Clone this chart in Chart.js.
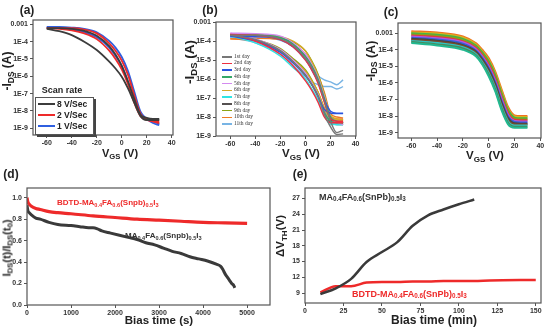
<!DOCTYPE html>
<html>
<head>
<meta charset="utf-8">
<script src="https://cdn.jsdelivr.net/npm/chart.js@4.4.0/dist/chart.umd.min.js"></script>
<style>
  body { margin: 0; background: #fff; }
  #wrap { position: relative; width: 546px; height: 329px; overflow: hidden;
          font-family: Arial, "Liberation Sans", sans-serif; font-weight: bold; color: #222; }
  #wrap canvas { position: absolute; left: 0; top: 0; }
  .t { position: absolute; white-space: nowrap; line-height: 1; }
  .t sub { font-size: 0.7em; vertical-align: -0.3em; line-height: 0; }
  .c { transform: translate(-50%, -50%); }
  .l { transform: translateY(-50%); }
  .rot { transform: translate(-50%, -50%) rotate(-90deg); }
  .lg { position: absolute; height: 2px; }
  .small { font-family: "Liberation Serif", "DejaVu Serif", serif; font-weight: normal; font-size: 5.5px; color: #333; }
</style>
</head>
<body>
<div id="wrap">
  <canvas id="ca" width="546" height="329"></canvas>
  <canvas id="cb" width="546" height="329"></canvas>
  <canvas id="cc" width="546" height="329"></canvas>
  <canvas id="cd" width="546" height="329"></canvas>
  <canvas id="ce" width="546" height="329"></canvas>

  <!-- panel letters -->
  <div class="t c" style="left:27px;top:10px;font-size:12px">(a)</div>
  <div class="t c" style="left:210px;top:10px;font-size:12px">(b)</div>
  <div class="t c" style="left:391px;top:12px;font-size:12px">(c)</div>
  <div class="t c" style="left:11px;top:174px;font-size:12px">(d)</div>
  <div class="t c" style="left:300px;top:174px;font-size:12px">(e)</div>

  <!-- axis titles -->
  <div class="t c" style="left:120px;top:153px;font-size:11px">V<sub>GS</sub> (V)</div>
  <div class="t c" style="left:301px;top:154px;font-size:11.5px">V<sub>GS</sub> (V)</div>
  <div class="t c" style="left:485px;top:156px;font-size:11.5px">V<sub>GS</sub> (V)</div>
  <div class="t rot" style="left:7px;top:71px;font-size:12px">-I<sub>DS</sub> (A)</div>
  <div class="t rot" style="left:190px;top:62px;font-size:13.5px">-I<sub>DS</sub> (A)</div>
  <div class="t rot" style="left:371px;top:61px;font-size:12.5px">-I<sub>DS</sub> (A)</div>
  <div class="t c" style="left:159px;top:321px;font-size:11.5px">Bias time (s)</div>
  <div class="t c" style="left:434px;top:320px;font-size:12px">Bias time (min)</div>
  <div class="t rot" style="left:7px;top:248px;font-size:11px">I<sub>DS</sub>(t)/I<sub>DS</sub>(t<sub>0</sub>)</div>
  <div class="t rot" style="left:281px;top:236px;font-size:11.5px">&Delta;V<sub>TH</sub>(V)</div>

  <!-- annotations -->
  <div class="t l" style="left:57px;top:203px;font-size:8px;color:#ee2a2a">BDTD-MA<sub>0.4</sub>FA<sub>0.6</sub>(Snpb)<sub>0.5</sub>I<sub>3</sub></div>
  <div class="t l" style="left:125px;top:236px;font-size:8px;color:#333">MA<sub>0.4</sub>FA<sub>0.6</sub>(Snpb)<sub>0.5</sub>I<sub>3</sub></div>
  <div class="t l" style="left:319px;top:197px;font-size:9px;color:#333">MA<sub>0.4</sub>FA<sub>0.6</sub>(SnPb)<sub>0.5</sub>I<sub>3</sub></div>
  <div class="t l" style="left:352px;top:294px;font-size:9px;color:#ee2a2a">BDTD-MA<sub>0.4</sub>FA<sub>0.6</sub>(SnPb)<sub>0.5</sub>I<sub>3</sub></div>

  <!-- legend (a) -->
  <div class="t c" style="left:62px;top:90px;font-size:9px">Scan rate</div>
  <div style="position:absolute;left:35px;top:97px;width:57px;height:36px;border:1px solid #555;box-shadow:2px 2px 0 #444"></div>
  <div id="legA"></div>
  <!-- legend (b) -->
  <div id="legB"></div>
</div>

<script>
// ---- (a) scan rate hysteresis ----
const ivVgs = [-60, -50, -40, -30, -20, -10, -5, 0, 5, 10, 15, 20, 25, 30];
const a8Fwd = [6e-4, 6e-4, 5.5e-4, 4.2e-4, 2.2e-4, 5.5e-5, 1.8e-5, 4e-6, 5e-7, 5e-8, 6e-9, 4e-9, 3.5e-9, 3.5e-9];
const a8Rev = [5.5e-4, 4e-4, 2.4e-4, 1e-4, 3.3e-5, 7e-6, 2.8e-6, 9.5e-7, 2e-7, 3e-8, 5e-9, 3e-9, 3e-9, 3e-9];
const a2Fwd = [6e-4, 6e-4, 6e-4, 5e-4, 3e-4, 8e-5, 3e-5, 8e-6, 1.2e-6, 8e-8, 7e-9, 3.5e-9, 2.5e-9, 2e-9];
const a2Rev = [6e-4, 5.5e-4, 4.5e-4, 3e-4, 1.4e-4, 3e-5, 1e-5, 2.5e-6, 3.5e-7, 3e-8, 5e-9, 3e-9, 2.5e-9, 2.5e-9];
const a1Fwd = [7e-4, 7e-4, 6.5e-4, 5.5e-4, 3.5e-4, 1.1e-4, 4.5e-5, 1.3e-5, 2e-6, 1.3e-7, 9e-9, 3.5e-9, 2e-9, 1.5e-9];
const a1Rev = [6.5e-4, 6e-4, 5e-4, 3.5e-4, 1.8e-4, 4.5e-5, 1.5e-5, 4e-6, 5e-7, 4e-8, 6e-9, 3.5e-9, 2.5e-9, 1.8e-9];
const scanLabels = ["8 V/Sec", "2 V/Sec", "1 V/Sec"];
const scanColors = ["#3c3c3c", "#ee2a2a", "#2f5fe0"];

// ---- (b) daily stability ----
const dayVgs = [-60, -40, -20, -10, 0, 5, 10, 15, 20, 25, 30];
const day1Up = [2e-4, 2e-4, 1.3e-4, 6e-5, 1.2e-5, 4e-6, 8e-7, 8e-8, 6e-9, 1.5e-9, 2e-9];
const day1Dn = [2e-4, 1.2e-4, 3e-5, 8e-6, 1.5e-6, 5e-7, 1.2e-7, 1.5e-8, 3e-9, 1.2e-9, 1.3e-9];
const day2Up = [2.2e-4, 2e-4, 1.2e-4, 5e-5, 1e-5, 3e-6, 6e-7, 6e-8, 8e-9, 6e-9, 6e-9];
const day2Dn = [2.2e-4, 1e-4, 2e-5, 5e-6, 8e-7, 2.5e-7, 6e-8, 1e-8, 5e-9, 5e-9, 5e-9];
const day3Up = [1.8e-4, 1.7e-4, 1.2e-4, 5e-5, 1.1e-5, 3e-6, 7e-7, 8e-8, 2e-8, 1.6e-8, 1.6e-8];
const day3Dn = [1.8e-4, 1e-4, 2.5e-5, 7e-6, 1.5e-6, 5e-7, 1.2e-7, 2.5e-8, 1.6e-8, 1.5e-8, 1.5e-8];
const day4Up = [2e-4, 2e-4, 1.5e-4, 7e-5, 1.5e-5, 5e-6, 1e-6, 1e-7, 1e-8, 6e-9, 5e-9];
const day4Dn = [2e-4, 1.1e-4, 3e-5, 8e-6, 1.6e-6, 5e-7, 1.3e-7, 1.8e-8, 6e-9, 5e-9, 5e-9];
const day5Up = [2.6e-4, 2.4e-4, 1.8e-4, 8e-5, 2e-5, 6e-6, 1.2e-6, 1.2e-7, 1e-8, 6e-9, 5e-9];
const day5Dn = [2.6e-4, 1.3e-4, 3.5e-5, 1e-5, 2e-6, 6e-7, 1.5e-7, 2e-8, 6e-9, 5e-9, 4e-9];
const day6Up = [2.2e-4, 2.2e-4, 1.7e-4, 1e-4, 3e-5, 8e-6, 1.5e-6, 1.5e-7, 1.2e-8, 8e-9, 7e-9];
const day6Dn = [2.2e-4, 1.2e-4, 3.5e-5, 1e-5, 2.5e-6, 8e-7, 2e-7, 3e-8, 8e-9, 7e-9, 7e-9];
const day7Up = [1.8e-4, 1.8e-4, 1.3e-4, 6e-5, 1.3e-5, 4e-6, 8e-7, 7e-8, 6e-9, 4e-9, 4e-9];
const day7Dn = [1.8e-4, 8e-5, 1.6e-5, 4e-6, 1e-6, 3e-7, 8e-8, 1.2e-8, 4e-9, 4e-9, 4e-9];
const day8Up = [2e-4, 2e-4, 1.5e-4, 7e-5, 1.6e-5, 5e-6, 1e-6, 1e-7, 8e-9, 5e-9, 5e-9];
const day8Dn = [2e-4, 1.1e-4, 3e-5, 8e-6, 1.8e-6, 6e-7, 1.5e-7, 2e-8, 5e-9, 4e-9, 4e-9];
const day9Up = [2e-4, 2e-4, 1.6e-4, 9e-5, 3e-5, 9e-6, 1.8e-6, 1.6e-7, 1e-8, 6e-9, 6e-9];
const day9Dn = [2e-4, 1.2e-4, 4e-5, 1.2e-5, 3e-6, 9e-7, 2e-7, 2.5e-8, 6e-9, 5e-9, 5e-9];
const day10Up = [1.3e-4, 1.4e-4, 1.2e-4, 7e-5, 2e-5, 7e-6, 1.6e-6, 2e-7, 1.5e-8, 1e-8, 9e-9];
const day10Dn = [1.3e-4, 1e-4, 3.5e-5, 1.1e-5, 2.5e-6, 8e-7, 2e-7, 3e-8, 9e-9, 8e-9, 8e-9];
const day11Up = [1.5e-4, 1.5e-4, 1.1e-4, 5e-5, 1e-5, 4e-6, 1.5e-6, 9e-7, 7e-7, 5e-7, 9e-7];
const day11Dn = [1.5e-4, 8e-5, 2e-5, 5e-6, 1.3e-6, 7e-7, 5e-7, 4e-7, 4e-7, 3e-7, 4e-7];
const dayLabels = ["1st day", "2nd day", "3rd day", "4th day", "5th day", "6th day",
                   "7th day", "8th day", "9th day", "10th day", "11th day"];
const dayColors = ["#777777", "#ee3040", "#2a55e0", "#35a868", "#d48af0", "#d6a828",
                   "#30e4e4", "#555050", "#8ca414", "#f07a22", "#78b4e4"];

// ---- (c) device-to-device ----
const devVgs = [-60, -40, -20, -10, -5, 0, 5, 10, 15, 20, 25, 30];
const dev1 = [1.3e-3, 1.1e-3, 6.3e-4, 2.5e-4, 1e-4, 3.2e-5, 5e-6, 4e-7, 3.5e-8, 1.1e-8, 1e-8, 1e-8];
const dev2 = [1.1e-3, 9.5e-4, 5.4e-4, 2.1e-4, 8.3e-5, 2.5e-5, 3.9e-6, 3.1e-7, 2.8e-8, 9.5e-9, 8.7e-9, 8.7e-9];
const dev3 = [9.8e-4, 8e-4, 4.5e-4, 1.8e-4, 6.9e-5, 2e-5, 3e-6, 2.3e-7, 2.3e-8, 8.1e-9, 7.4e-9, 7.4e-9];
const dev4 = [8.3e-4, 6.8e-4, 3.8e-4, 1.5e-4, 5.6e-5, 1.6e-5, 2.3e-6, 1.8e-7, 1.8e-8, 7e-9, 6.5e-9, 6.5e-9];
const dev5 = [7.2e-4, 5.8e-4, 3.2e-4, 1.3e-4, 4.8e-5, 1.3e-5, 1.9e-6, 1.4e-7, 1.5e-8, 6e-9, 5.6e-9, 5.6e-9];
const dev6 = [6.3e-4, 4.9e-4, 2.8e-4, 1.1e-4, 4e-5, 1e-5, 1.4e-6, 1.1e-7, 1.2e-8, 5.1e-9, 4.8e-9, 4.8e-9];
const dev7 = [5.2e-4, 4.1e-4, 2.3e-4, 9.1e-5, 3.2e-5, 7.9e-6, 1.1e-6, 8.1e-8, 9.3e-9, 4.4e-9, 4.1e-9, 4.1e-9];
const dev8 = [4.6e-4, 3.5e-4, 1.9e-4, 7.8e-5, 2.6e-5, 6.3e-6, 8.5e-7, 6.3e-8, 7.6e-9, 3.7e-9, 3.5e-9, 3.5e-9];
const dev9 = [3.9e-4, 3e-4, 1.7e-4, 6.6e-5, 2.2e-5, 5e-6, 6.6e-7, 4.9e-8, 6e-9, 3.2e-9, 3.1e-9, 3.1e-9];
const dev10 = [3.4e-4, 2.5e-4, 1.4e-4, 5.5e-5, 1.8e-5, 4e-6, 5.2e-7, 3.7e-8, 4.9e-9, 2.7e-9, 2.7e-9, 2.7e-9];
const dev11 = [2.9e-4, 2.1e-4, 1.2e-4, 4.7e-5, 1.5e-5, 3.2e-6, 4.1e-7, 2.9e-8, 3.9e-9, 2.3e-9, 2.3e-9, 2.3e-9];
const dev12 = [2.5e-4, 1.8e-4, 1e-4, 4e-5, 1.3e-5, 2.5e-6, 3.2e-7, 2.2e-8, 3.2e-9, 2e-9, 2e-9, 2e-9];
const devColors = ["#f07020", "#d9b020", "#3fb24a", "#84a41c", "#e03a3a", "#b455e0",
                   "#3460d8", "#444444", "#7a4a2a", "#2fc4c4", "#4a8a5a", "#22b890"];

// ---- (d) bias stress, normalised current ----
const dRedTime = [0, 20, 50, 100, 200, 300, 500, 700, 1000, 1500, 2000, 2500, 3000, 3500, 4000, 4500, 5000];
const dRedVal = [1.0, 0.96, 0.94, 0.92, 0.9, 0.89, 0.87, 0.86, 0.85, 0.83, 0.815, 0.8, 0.79, 0.78, 0.77, 0.765, 0.76];
const dBlkTime = [0, 20, 50, 100, 200, 300, 500, 700, 1000, 1200, 1400, 1500, 1600, 1700, 1900, 2100, 2300, 2500,
                  2700, 2900, 3100, 3300, 3500, 3700, 3900, 4100, 4300, 4400, 4450, 4500, 4550, 4600, 4650, 4700, 4720];
const dBlkVal = [0.93, 0.88, 0.86, 0.84, 0.81, 0.8, 0.77, 0.75, 0.74, 0.73, 0.72, 0.72, 0.71, 0.69, 0.67, 0.65, 0.63, 0.61,
                 0.58, 0.56, 0.53, 0.5, 0.48, 0.45, 0.43, 0.41, 0.38, 0.36, 0.33, 0.29, 0.26, 0.23, 0.2, 0.18, 0.16];

// ---- (e) threshold voltage shift ----
const eBlkTime = [10, 20, 30, 40, 50, 60, 70, 80, 90, 100, 110];
const eBlkVal = [8.8, 9.9, 11.7, 14.9, 16.8, 18.7, 21.8, 23.8, 24.9, 25.9, 26.8];
const eRedTime = [10, 20, 30, 40, 50, 60, 70, 80, 90, 100, 110, 120, 150];
const eRedVal = [9.1, 10.3, 10.3, 11.0, 11.1, 11.1, 11.2, 11.2, 11.3, 11.3, 11.3, 11.4, 11.5];

const logTicks = [1e-9, 1e-8, 1e-7, 1e-6, 1e-5, 1e-4, 1e-3];
const logTickLabels = ["1E-9", "1E-8", "1E-7", "1E-6", "1E-5", "1E-4", "0.001"];
const vgsTicks = [-60, -40, -20, 0, 20, 40];

Chart.defaults.font.family = 'Arial, "Liberation Sans", sans-serif';
Chart.defaults.animation = false;

const frame = {
  id: "frame",
  afterDatasetsDraw(chart) {
    const { ctx, chartArea: a } = chart;
    ctx.save();
    ctx.strokeStyle = "#555";
    ctx.lineWidth = 1.2;
    ctx.strokeRect(a.left, a.top, a.right - a.left, a.bottom - a.top);
    ctx.restore();
  },
};

const pts = (xs, ys) => xs.map((x, i) => ({ x, y: ys[i] }));

function line(xs, ys, color, width) {
  return {
    data: pts(xs, ys),
    showLine: true,
    borderColor: color,
    backgroundColor: color,
    borderWidth: width,
    pointRadius: 0,
    cubicInterpolationMode: "monotone",
  };
}

const tickFont = { size: 7, weight: "bold" };

// area = chart area in page pixels
function axisX(min, max, ticks, fmt, h) {
  return {
    type: "linear", min, max,
    afterBuildTicks: s => { s.ticks = ticks.map(v => ({ value: v })); },
    afterFit: s => { s.height = h; },
    grid: { drawOnChartArea: false, drawTicks: true, tickLength: 3, color: "#555" },
    border: { display: false },
    ticks: { font: tickFont, color: "#333", padding: 1, autoSkip: false, maxRotation: 0, callback: fmt },
  };
}
function axisY(type, min, max, ticks, fmt, w) {
  return {
    type, min, max,
    afterBuildTicks: s => { s.ticks = ticks.map(v => ({ value: v })); },
    afterFit: s => { s.width = w; },
    grid: { drawOnChartArea: false, drawTicks: true, tickLength: 3, color: "#555" },
    border: { display: false },
    ticks: { font: tickFont, color: "#333", padding: 2, autoSkip: false, callback: fmt },
  };
}

function makeChart(id, area, datasets, x, y) {
  const yW = 30, xH = 14;
  new Chart(document.getElementById(id), {
    type: "scatter",
    data: { datasets },
    options: {
      responsive: false,
      layout: { padding: { left: area.left - yW, top: area.top, right: 546 - area.right, bottom: 329 - area.bottom - xH } },
      plugins: { legend: { display: false }, tooltip: { enabled: false } },
      scales: { x: x(xH), y: y(yW) },
    },
    plugins: [frame],
  });
}

const logFmt = v => { const i = logTicks.indexOf(v); return i >= 0 ? logTickLabels[i] : ""; };
const intFmt = v => String(v);

// (a)
makeChart("ca", { left: 33, top: 20, right: 173, bottom: 135 }, [
  line(ivVgs, a8Fwd, scanColors[0], 1.8), line(ivVgs, a8Rev, scanColors[0], 1.8),
  line(ivVgs, a2Fwd, scanColors[1], 1.8), line(ivVgs, a2Rev, scanColors[1], 1.8),
  line(ivVgs, a1Fwd, scanColors[2], 1.8), line(ivVgs, a1Rev, scanColors[2], 1.8),
], h => axisX(-71, 41, vgsTicks, intFmt, h),
   w => axisY("logarithmic", Math.pow(10, -9.39), Math.pow(10, -2.75), logTicks, logFmt, w));

// (b)
const dayUp = [day1Up, day2Up, day3Up, day4Up, day5Up, day6Up, day7Up, day8Up, day9Up, day10Up, day11Up];
const dayDn = [day1Dn, day2Dn, day3Dn, day4Dn, day5Dn, day6Dn, day7Dn, day8Dn, day9Dn, day10Dn, day11Dn];
const bSets = [];
dayColors.forEach((c, i) => {
  bSets.push(line(dayVgs, dayUp[i], c, 1.4));
  bSets.push(line(dayVgs, dayDn[i], c, 1.4));
});
makeChart("cb", { left: 216, top: 22, right: 356, bottom: 136 }, bSets,
  h => axisX(-71.4, 40.3, vgsTicks, intFmt, h),
  w => axisY("logarithmic", 1e-9, 1e-3, logTicks, logFmt, w));

// (c)
const devCurves = [dev12, dev11, dev10, dev9, dev8, dev7, dev6, dev5, dev4, dev3, dev2, dev1];
const cSets = devCurves.map((d, i) => line(devVgs, d, devColors[devColors.length - 1 - i], 2));
makeChart("cc", { left: 398, top: 23, right: 541, bottom: 138 }, cSets,
  h => axisX(-70.3, 40.5, vgsTicks, intFmt, h),
  w => axisY("logarithmic", Math.pow(10, -9.32), Math.pow(10, -2.39), logTicks, logFmt, w));

// (d)
makeChart("cd", { left: 27, top: 188, right: 270, bottom: 305 }, [
  line(dBlkTime, dBlkVal, "#3a3a3a", 3),
  line(dRedTime, dRedVal, "#ee2a2a", 3.2),
], h => axisX(0, 5520, [0, 1000, 2000, 3000, 4000, 5000], intFmt, h),
   w => axisY("linear", 0, 1.09, [0, 0.2, 0.4, 0.6, 0.8, 1.0], v => v.toFixed(1), w));

// (e)
makeChart("ce", { left: 305, top: 188, right: 541, bottom: 303 }, [
  line(eBlkTime, eBlkVal, "#3a3a3a", 2.5),
  line(eRedTime, eRedVal, "#ee2a2a", 2.5),
], h => axisX(0, 153.4, [0, 25, 50, 75, 100, 125, 150], intFmt, h),
   w => axisY("linear", 7.1, 29, [9, 12, 15, 18, 21, 24, 27], intFmt, w));

// legends
const legA = document.getElementById("legA");
scanLabels.forEach((lab, i) => {
  const y = 104 + i * 11;
  legA.insertAdjacentHTML("beforeend",
    `<div class="lg" style="left:38px;top:${y - 1}px;width:17px;background:${scanColors[i]}"></div>` +
    `<div class="t l" style="left:57px;top:${y}px;font-size:8.5px">${lab}</div>`);
});
const legB = document.getElementById("legB");
dayLabels.forEach((lab, i) => {
  const y = 56.7 + i * 6.73;
  legB.insertAdjacentHTML("beforeend",
    `<div class="lg" style="left:222px;top:${(y - 0.75).toFixed(1)}px;width:10px;height:1.5px;background:${dayColors[i]}"></div>` +
    `<div class="t l small" style="left:234px;top:${y.toFixed(1)}px">${lab}</div>`);
});
</script>
</body>
</html>
